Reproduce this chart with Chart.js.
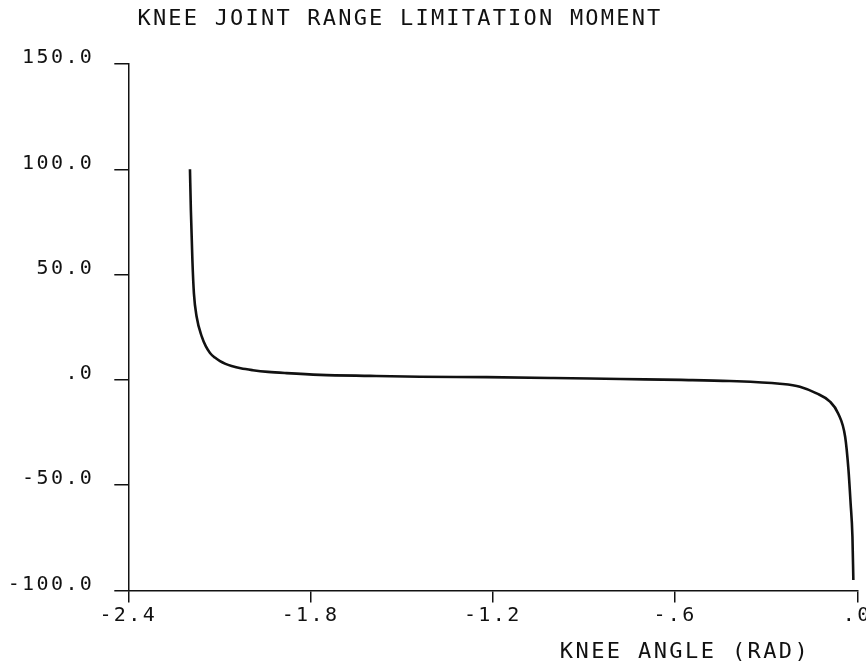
<!DOCTYPE html>
<html>
<head>
<meta charset="utf-8">
<script src="https://cdn.jsdelivr.net/npm/chart.js@4/dist/chart.umd.min.js"></script>
<style>
  html, body { margin: 0; padding: 0; background: #fff; }
  #wrap { width: 866px; height: 661px; }
</style>
</head>
<body>
<div id="wrap"><canvas id="c" width="866" height="661"></canvas></div>
<script>
// ---- data ----
const chartTitle = "KNEE JOINT RANGE LIMITATION MOMENT";
const xAxisTitle = "KNEE ANGLE (RAD)";
const kneeAngle = [-2.197, -2.194, -2.189, -2.184, -2.175, -2.158, -2.145, -2.131, -2.115, -2.098,
                   -2.080, -2.060, -2.030, -1.990, -1.940, -1.879, -1.769, -1.604, -1.440, -1.220,
                   -1.000, -0.780, -0.580, -0.420, -0.255, -0.189, -0.134, -0.090, -0.063, -0.040,
                   -0.029, -0.022, -0.016, -0.013];
const moment = [100.0, 80.7, 56.9, 41.1, 30.0, 20.5, 16.0, 12.8, 10.6, 8.9,
                7.6, 6.6, 5.5, 4.6, 3.8, 3.2, 2.4, 1.9, 1.5, 1.3,
                0.9, 0.4, 0.0, -0.5, -1.8, -3.2, -6.4, -10.3, -15.9, -27.0,
                -42.8, -58.6, -74.4, -95.0];
const xTickValues = [-2.4, -1.8, -1.2, -0.6, 0];
const xTickLabels = ["-2.4", "-1.8", "-1.2", "-.6", ".0"];
const yTickValues = [-100, -50, 0, 50, 100, 150];
const yTickLabels = ["-100.0", "-50.0", ".0", "50.0", "100.0", "150.0"];

const FONT = "'DejaVu Sans Mono', 'Liberation Mono', monospace";
const INK = "#111";

const points = kneeAngle.map((x, i) => ({ x: x, y: moment[i] }));

const plotterPlugin = {
  id: 'plotter',
  beforeDraw(chart) {
    chart.ctx.letterSpacing = '2.4px';
  },
  afterDraw(chart) {
    const ctx = chart.ctx;
    ctx.save();
    ctx.fillStyle = INK;
    ctx.letterSpacing = '2.2px';
    ctx.font = "22px " + FONT;
    ctx.textAlign = 'center';
    ctx.textBaseline = 'alphabetic';
    ctx.fillText(chartTitle, 400, 25);
    ctx.letterSpacing = '2.4px';
    ctx.fillText(xAxisTitle, 685, 658);
    ctx.restore();
  }
};

new Chart(document.getElementById('c'), {
  type: 'scatter',
  data: {
    datasets: [{
      data: points,
      showLine: true,
      borderColor: INK,
      borderWidth: 2.6,
      pointRadius: 0,
      fill: false,
      cubicInterpolationMode: 'monotone'
    }]
  },
  options: {
    responsive: false,
    animation: false,
    devicePixelRatio: 1,
    layout: { padding: { left: 0, right: 8.7, top: 64, bottom: 0 } },
    plugins: { legend: { display: false }, tooltip: { enabled: false }, title: { display: false } },
    scales: {
      x: {
        type: 'linear',
        min: -2.4, max: 0,
        afterBuildTicks(scale) { scale.ticks = xTickValues.map(v => ({ value: v })); },
        afterFit(scale) { scale.height = 70.5; scale.paddingLeft = 0; scale.paddingRight = 0; },
        grid: { drawOnChartArea: false, drawTicks: true, tickLength: 12, color: INK, lineWidth: 1.5 },
        border: { display: true, color: INK, width: 1.5 },
        ticks: {
          color: INK,
          font: { family: FONT, size: 20 },
          padding: 1,
          maxRotation: 0,
          autoSkip: false,
          callback(value) { return xTickLabels[xTickValues.indexOf(value)]; }
        }
      },
      y: {
        type: 'linear',
        min: -100, max: 150,
        afterBuildTicks(scale) { scale.ticks = yTickValues.map(v => ({ value: v })); },
        afterFit(scale) { scale.width = 128.3; scale.paddingTop = 0; scale.paddingBottom = 0; },
        grid: { drawOnChartArea: false, drawTicks: true, tickLength: 14, color: INK, lineWidth: 1.5 },
        border: { display: true, color: INK, width: 1.5 },
        ticks: {
          color: INK,
          font: { family: FONT, size: 20 },
          padding: 20,
          labelOffset: -6,
          autoSkip: false,
          callback(value) { return yTickLabels[yTickValues.indexOf(value)]; }
        }
      }
    }
  },
  plugins: [plotterPlugin]
});
</script>
</body>
</html>
